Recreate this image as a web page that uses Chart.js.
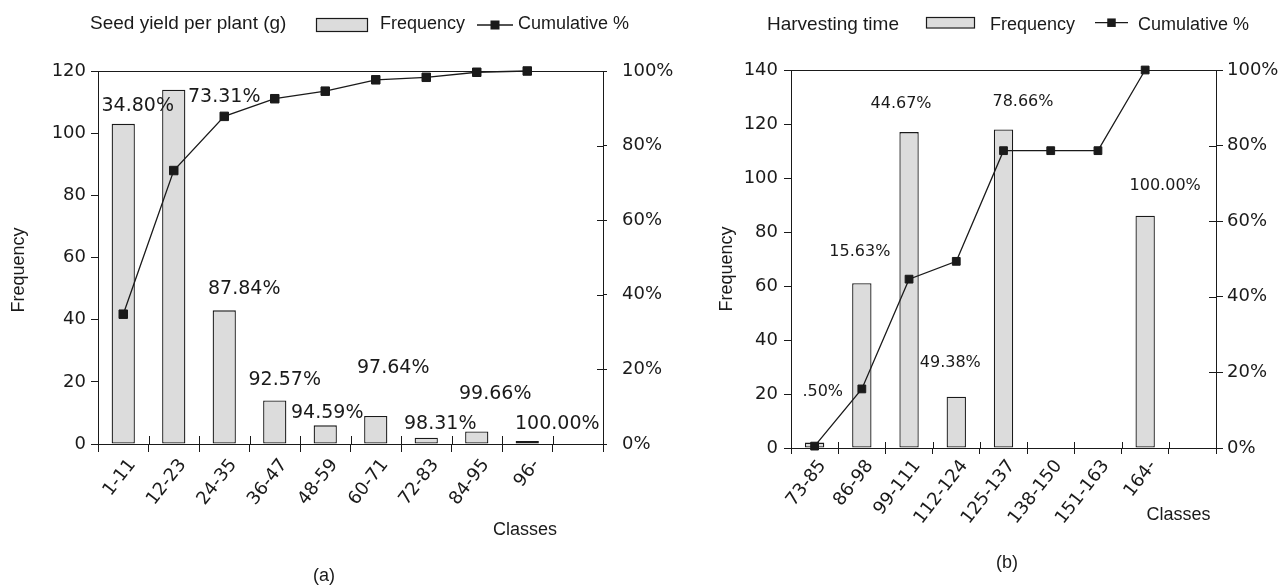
<!DOCTYPE html>
<html>
<head>
<meta charset="utf-8">
<script src="https://cdn.jsdelivr.net/npm/chart.js@4.4.1/dist/chart.umd.min.js"></script>
<style>
  html, body { margin: 0; padding: 0; background: #fff; }
  #wrap { position: relative; width: 1284px; height: 586px; }
  canvas { position: absolute; top: 0; }
  #seed { left: 0; }
  #harvest { left: 700px; }
</style>
</head>
<body>
<div id="wrap">
  <canvas id="seed" width="700" height="586"></canvas>
  <canvas id="harvest" width="584" height="586"></canvas>
</div>
<script>
// (a) seed yield per plant
const seedClasses = ['1-11', '12-23', '24-35', '36-47', '48-59', '60-71', '72-83', '84-95', '96-', '']
const seedFreq = [103, 114, 43, 14, 6, 9, 2, 4, 1]
const seedCum = [34.80, 73.31, 87.84, 92.57, 94.59, 97.64, 98.31, 99.66, 100.00]
const seedFreqTicks = [0, 20, 40, 60, 80, 100, 120]

// (b) harvesting time
const harvestClasses = ['73-85', '86-98', '99-111', '112-124', '125-137', '138-150', '151-163', '164-', '']
const harvestFreq = [2, 61, 117, 19, 118, 0, 0, 86]
const harvestCum = [0.50, 15.63, 44.67, 49.38, 78.66, 78.66, 78.66, 100.00]
const harvestFreqTicks = [0, 20, 40, 60, 80, 100, 120, 140]

const pctTicks = [0, 20, 40, 60, 80, 100]
const pctTickLabels = ['0%', '20%', '40%', '60%', '80%', '100%']

const INK = '#1a1a1a'
const BAR_FILL = '#dcdcdc'
const NUM_FONT = "'DejaVu Sans'"
const TEXT_FONT = "'Liberation Sans'"

const crisp = v => Math.round(v) + 0.5

// Chart.js draws the outer half of the crossing ticks, this adds the inner half and the top frame
const innerTicks = {
  id: 'innerTicks',
  afterDraw(chart, args, o) {
    const { ctx, chartArea: a, scales } = chart
    ctx.save()
    ctx.strokeStyle = INK
    ctx.lineWidth = 1
    ctx.beginPath()
    ctx.moveTo(a.left, crisp(a.top))
    ctx.lineTo(a.right + 1, crisp(a.top))
    const n = scales.x.getLabels().length
    for (let i = 0; i <= n; i++) {
      const px = crisp(scales.x.getPixelForValue(i - 0.5))
      ctx.moveTo(px, a.bottom)
      ctx.lineTo(px, a.bottom - o.x)
    }
    scales.y1.ticks.forEach(t => {
      const py = crisp(scales.y1.getPixelForValue(t.value))
      ctx.moveTo(a.right, py)
      ctx.lineTo(a.right - o.y1, py)
    })
    ctx.stroke()
    ctx.restore()
  },
}

// cumulative % written next to each bar
const cumLabels = {
  id: 'cumLabels',
  afterDatasetsDraw(chart, args, o) {
    const { ctx, chartArea: a } = chart
    const bars = chart.getDatasetMeta(0).data
    const cum = chart.data.datasets[1].data
    ctx.save()
    ctx.beginPath()
    ctx.rect(a.left + o.inset, a.top, a.right - a.left, a.bottom - a.top)
    ctx.clip()
    ctx.font = `${o.size}px ${NUM_FONT}`
    ctx.fillStyle = INK
    ctx.textAlign = 'center'
    ctx.textBaseline = 'middle'
    bars.forEach((bar, i) => {
      const off = o.offsets[i]
      if (!off || cum[i] == null) return
      ctx.fillText(cum[i].toFixed(2) + '%', bar.x + off[0], bar.y + off[1])
    })
    ctx.restore()
  },
}

// title, legend, axis titles and caption
const header = {
  id: 'header',
  afterDraw(chart, args, o) {
    const { ctx } = chart
    const [bars, line] = chart.data.datasets
    ctx.save()
    ctx.fillStyle = INK
    ctx.textBaseline = 'alphabetic'
    ctx.font = `19px ${TEXT_FONT}`
    ctx.fillText(o.title, o.titleX, o.base)
    ctx.font = `18px ${TEXT_FONT}`
    // bar sample
    const [bx, by, bw, bh] = o.box
    ctx.fillStyle = bars.backgroundColor
    ctx.fillRect(bx, by, bw, bh)
    ctx.strokeStyle = bars.borderColor
    ctx.lineWidth = 1.2
    ctx.strokeRect(bx + 0.5, by + 0.5, bw, bh)
    ctx.fillStyle = INK
    ctx.fillText(bars.label, o.barTextX, o.legBase)
    // line sample
    const [x1, x2, ly] = o.line
    ctx.strokeStyle = line.borderColor
    ctx.lineWidth = 1.3
    ctx.beginPath()
    ctx.moveTo(x1, ly)
    ctx.lineTo(x2, ly)
    ctx.stroke()
    const m = o.marker
    ctx.fillRect((x1 + x2) / 2 - m / 2, ly - m / 2, m, m)
    ctx.fillText(line.label, o.lineTextX, o.legBase)
    // axis titles
    ctx.textAlign = 'center'
    ctx.textBaseline = 'middle'
    ctx.fillText('Classes', o.classes[0], o.classes[1])
    ctx.fillText(o.caption, o.cap[0], o.cap[1])
    ctx.translate(o.freq[0], o.freq[1])
    ctx.rotate(-Math.PI / 2)
    ctx.fillText('Frequency', 0, 0)
    ctx.restore()
  },
}

function makeChart(id, cfg) {
  const tickFont = { family: NUM_FONT, size: 18 }
  return new Chart(document.getElementById(id), {
    type: 'bar',
    data: {
      labels: cfg.classes,
      datasets: [
        {
          label: 'Frequency',
          data: cfg.freq,
          yAxisID: 'y',
          backgroundColor: BAR_FILL,
          borderColor: INK,
          borderWidth: 1.3,
          borderSkipped: false,
          barPercentage: cfg.barPct,
          categoryPercentage: 1,
          order: 1,
        },
        {
          type: 'line',
          label: 'Cumulative %',
          data: cfg.cum,
          yAxisID: 'y1',
          borderColor: INK,
          borderWidth: 1.3,
          pointStyle: 'rect',
          pointRadius: cfg.pointR,
          pointBorderWidth: 1,
          pointBackgroundColor: INK,
          pointBorderColor: INK,
          clip: false,
          order: 0,
        },
      ],
    },
    options: {
      responsive: false,
      animation: false,
      layout: { padding: { top: cfg.top, left: 0, right: 0, bottom: 0 } },
      plugins: {
        legend: { display: false },
        tooltip: { enabled: false },
        innerTicks: cfg.inner,
        cumLabels: { size: cfg.labelSize, offsets: cfg.offsets, inset: cfg.labelInset },
        header: cfg.header,
      },
      scales: {
        x: {
          offset: true,
          afterFit: s => { s.height = cfg.xHeight },
          grid: { offset: true, drawOnChartArea: false, tickLength: cfg.xTick, color: INK, lineWidth: 1 },
          border: { color: INK, width: 1 },
          ticks: {
            font: tickFont, color: INK, autoSkip: false,
            minRotation: 52, maxRotation: 52, padding: cfg.xPad, labelOffset: cfg.xLabelOffset,
          },
        },
        y: {
          position: 'left',
          min: 0,
          max: cfg.freqTicks[cfg.freqTicks.length - 1],
          afterFit: s => { s.width = cfg.yWidth },
          afterBuildTicks: s => { s.ticks = cfg.freqTicks.map(value => ({ value })) },
          grid: { drawOnChartArea: false, tickLength: 7, color: INK, lineWidth: 1 },
          border: { color: INK, width: 1 },
          ticks: { font: tickFont, color: INK, padding: cfg.yPad },
        },
        y1: {
          position: 'right',
          min: 0,
          max: 100,
          afterFit: s => { s.width = cfg.y1Width },
          afterBuildTicks: s => { s.ticks = pctTicks.map(value => ({ value })) },
          grid: { drawOnChartArea: false, tickLength: cfg.y1Tick, color: INK, lineWidth: 1 },
          border: { color: INK, width: 1 },
          ticks: { font: tickFont, color: INK, padding: cfg.y1Pad, callback: (v, i) => pctTickLabels[i] },
        },
      },
    },
    plugins: [innerTicks, cumLabels, header],
  })
}

makeChart('seed', {
  classes: seedClasses, freq: seedFreq, cum: seedCum, freqTicks: seedFreqTicks,
  barPct: 0.46, pointR: 6, top: 71, xHeight: 142, yWidth: 98, y1Width: 97,
  xTick: 8, xPad: 3, xLabelOffset: 9, yPad: 5, y1Tick: 4, y1Pad: 15,
  inner: { x: 8, y1: 6 },
  labelSize: 19, labelInset: 1,
  offsets: [[14.5, -18], [50.5, 7], [20, -21.5], [10, -20], [2, -12], [17.5, -48], [14, -14], [18.5, -38], [30, -17]],
  header: {
    title: 'Seed yield per plant (g)', titleX: 90, base: 28.5, legBase: 28.5,
    box: [316, 18, 51, 13], barTextX: 380, line: [477, 513, 25], marker: 9, lineTextX: 518,
    classes: [525, 530], caption: '(a)', cap: [324, 576], freq: [19.5, 270],
  },
})

makeChart('harvest', {
  classes: harvestClasses, freq: harvestFreq, cum: harvestCum, freqTicks: harvestFreqTicks,
  barPct: 0.41, pointR: 5.5, top: 70, xHeight: 138, yWidth: 91, y1Width: 68,
  xTick: 6, xPad: 2, xLabelOffset: 8, yPad: 6, y1Tick: 7, y1Pad: 4,
  inner: { x: 6, y1: 7 },
  labelSize: 16, labelInset: 11,
  offsets: [[3, -51], [-2, -31], [-8, -28], [-6, -34], [19.5, -28], null, null, [20, -30]],
  header: {
    title: 'Harvesting time', titleX: 67, base: 30, legBase: 30,
    box: [226, 17, 48, 10.5], barTextX: 290, line: [395, 428, 22.7], marker: 8.5, lineTextX: 438,
    classes: [478.5, 515], caption: '(b)', cap: [307, 563], freq: [27.5, 269],
  },
})
</script>
</body>
</html>
